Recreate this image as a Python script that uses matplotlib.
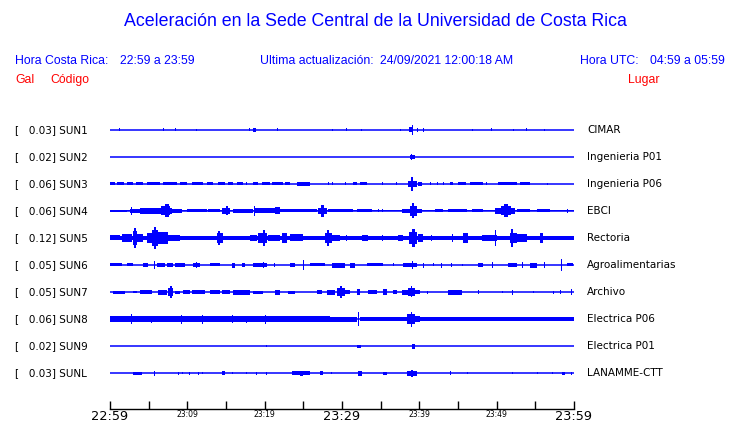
import matplotlib.pyplot as plt

# datos de las estaciones
codigos = ["SUN1", "SUN2", "SUN3", "SUN4", "SUN5", "SUN6", "SUN7", "SUN8", "SUN9", "SUNL"]
lugares = ["CIMAR", "Ingenieria P01", "Ingenieria P06", "EBCI", "Rectoria",
           "Agroalimentarias", "Archivo", "Electrica P06", "Electrica P01", "LANAMME-CTT"]
gal = [0.03, 0.02, 0.06, 0.06, 0.12, 0.05, 0.05, 0.06, 0.02, 0.03]

# ruido de fondo (amplitud relativa) por estacion
fondo = [0, 0, 0, 0.5, 2, 0, 0, 0, 0, 0]

# eventos: (minuto inicio, minuto fin, amplitud relativa)
sun1 = [(1.2, 1.2, 1.5), (6.9, 6.9, 1.5), (8.5, 8.5, 1.5), (11.2, 11.2, 1), (18.0, 18.0, 1.5),
        (18.5, 18.9, 2), (21.6, 21.6, 1.5), (28.8, 28.8, 1), (30.6, 30.6, 1.5), (32.5, 32.5, 1),
        (37.6, 37.6, 1), (38.6, 39.0, 2.5), (39.1, 39.1, 5), (39.8, 39.8, 2), (40.5, 40.5, 2),
        (46.9, 46.9, 1), (49.3, 49.3, 1.5), (52.2, 52.2, 1), (53.9, 53.9, 1.5), (56.2, 56.2, 1)]
sun2 = [(38.8, 39.4, 2), (39.0, 39.0, 3)]
sun3 = [(0, 0.6, 1.5), (0.9, 1.8, 1.5), (2.2, 3.0, 1.5), (3.3, 4.3, 1.5), (4.8, 6.5, 1.5),
        (6.8, 8.7, 1.5), (9.1, 10.0, 1.5), (10.6, 12.0, 1.5), (12.5, 13.3, 1.5), (14.0, 14.9, 1.5),
        (15.3, 15.9, 1.5), (16.4, 17.2, 1.5), (17.7, 17.7, 1.5), (18.5, 19.1, 1.5), (19.7, 20.7, 1.5),
        (20.9, 22.4, 1.5), (22.6, 23.3, 1.5), (24.2, 25.9, 2), (28.2, 28.2, 1.5), (28.8, 28.8, 1.5),
        (30.4, 30.4, 1.5), (31.4, 31.9, 1.5), (32.3, 33.2, 1.5), (35.3, 35.3, 1.5), (37.1, 37.1, 1.5),
        (38.5, 39.7, 3), (38.9, 39.2, 7), (39.8, 40.3, 2), (41.4, 41.4, 1.5), (42.3, 42.3, 1.5),
        (43.1, 43.1, 1.5), (44.0, 44.3, 1.5), (45.0, 46.0, 1.5), (46.5, 48.2, 1.5), (48.7, 48.7, 1.5),
        (50.2, 52.6, 1.5), (53.0, 54.3, 1.5), (56.6, 56.6, 1)]
sun4 = [(0, 2.2, 1), (2.6, 3.9, 2), (2.8, 2.8, 4), (3.9, 6.1, 3), (6.1, 8.0, 3), (6.6, 7.8, 4.5),
        (7.1, 7.6, 6.5), (8.0, 9.3, 2), (10.0, 12.5, 1.5), (12.7, 14.2, 1.5), (14.5, 15.5, 3),
        (15.0, 15.2, 4.5), (15.9, 18.5, 2), (18.7, 21.3, 2.5), (18.7, 18.7, 5), (21.3, 22.0, 3.5),
        (22.0, 26.8, 1.5), (26.9, 28.1, 3), (27.3, 27.7, 6), (28.2, 31.4, 1.5), (31.9, 33.9, 1.5),
        (34.7, 34.7, 1.5), (35.3, 35.3, 1.5), (37.8, 38.8, 2), (38.8, 39.7, 5), (39.1, 39.3, 7.5),
        (39.7, 40.3, 2), (42.0, 43.1, 1.5), (43.7, 46.2, 1.5), (46.8, 48.2, 1.5), (49.8, 52.4, 3),
        (50.5, 51.8, 4.5), (50.9, 51.5, 6.5), (52.6, 54.3, 1.5), (55.2, 56.9, 1.5), (59.2, 59.2, 2)]
sun5 = [(0, 1.3, 2.5), (1.6, 2.8, 4), (3.0, 3.5, 7), (3.1, 3.3, 10), (3.5, 4.3, 4), (4.8, 6.1, 5),
        (5.4, 6.2, 8), (5.7, 6.0, 11), (6.2, 7.5, 6), (7.5, 9.1, 3), (13.8, 14.6, 5), (14.0, 14.2, 7),
        (18.1, 19.0, 3), (19.1, 20.3, 5), (19.8, 20.0, 8), (20.4, 22.0, 3), (22.2, 22.9, 5),
        (23.3, 25.0, 3.5), (27.8, 28.7, 5), (28.1, 28.3, 8), (28.7, 29.7, 3), (30.6, 30.6, 3),
        (32.6, 33.4, 3), (35.3, 35.3, 3), (37.2, 37.9, 3), (38.7, 39.7, 6), (39.1, 39.4, 9),
        (39.8, 40.5, 4), (41.6, 41.6, 3), (44.3, 44.3, 4), (45.6, 46.3, 5), (48.1, 50.0, 3),
        (49.8, 49.8, 8), (51.7, 52.6, 5), (51.9, 52.1, 9), (52.6, 53.9, 4), (55.6, 56.0, 5)]
sun6 = [(0, 1.6, 1.5), (2.2, 3.0, 1.5), (4.3, 4.9, 2), (5.7, 5.7, 4), (6.1, 7.1, 2), (7.4, 8.1, 2),
        (8.4, 9.7, 2), (10.7, 11.6, 2), (11.2, 11.2, 3), (12.9, 14.2, 1.5), (15.8, 16.2, 2.5),
        (17.1, 17.5, 2), (18.5, 20.3, 2), (19.8, 19.8, 3), (21.3, 21.3, 2), (23.3, 23.9, 2),
        (25.0, 25.0, 5), (25.9, 27.8, 1.5), (28.7, 30.4, 2.5), (31.0, 31.7, 2.5), (33.2, 35.3, 1.5),
        (36.6, 36.6, 1.5), (37.9, 39.7, 2), (39.1, 39.1, 4), (40.5, 40.5, 2.5), (41.8, 41.8, 1.5),
        (42.9, 42.9, 2.5), (44.2, 44.2, 2), (45.6, 45.6, 1), (47.6, 48.2, 2), (49.5, 49.5, 3),
        (51.5, 52.6, 2), (53.4, 53.4, 3), (54.3, 55.2, 2.5), (56.2, 56.2, 3), (58.4, 58.4, 6),
        (59.1, 59.9, 1.5)]
sun7 = [(0.4, 1.9, 1.5), (3.0, 3.5, 1), (3.9, 5.4, 2), (6.2, 7.4, 2.5), (7.5, 8.1, 4), (7.8, 8.0, 6),
        (8.4, 9.1, 1.5), (9.4, 10.3, 2), (10.6, 12.3, 2), (12.9, 14.2, 2), (14.5, 15.5, 2),
        (15.9, 18.1, 2.5), (18.5, 19.8, 1.5), (21.3, 22.0, 2.5), (23.0, 23.9, 1.5), (26.8, 27.4, 2),
        (28.1, 29.1, 2.5), (29.4, 30.4, 4), (29.8, 30.0, 6), (30.4, 31.0, 2), (31.9, 32.3, 3),
        (33.4, 34.5, 2), (35.3, 35.8, 3), (36.6, 37.1, 2), (37.8, 38.5, 2.5), (38.5, 39.4, 4),
        (38.9, 39.1, 5.5), (39.4, 40.1, 2), (41.0, 41.0, 1.5), (43.7, 45.5, 2.5), (47.6, 47.6, 2),
        (50.7, 50.7, 1), (52.0, 52.0, 2.5), (54.7, 54.7, 1), (57.3, 57.3, 1.5), (58.2, 58.2, 2),
        (59.7, 59.7, 3)]
sun8 = [(0, 28.4, 3), (2.8, 2.8, 5), (5.4, 5.4, 3.5), (9.3, 9.3, 4.5), (11.9, 11.9, 4.5),
        (15.8, 15.8, 4), (17.7, 17.7, 3.5), (20.1, 20.1, 4.5), (28.4, 31.9, 2.5), (32.1, 32.1, 7),
        (32.3, 38.4, 2), (38.4, 39.4, 5), (38.9, 39.1, 7.5), (39.4, 40.1, 3), (40.1, 60, 2)]
sun9 = [(20.2, 20.2, 1), (32.0, 32.4, 1.5), (39.0, 39.4, 2.5)]
sunl = [(3.0, 4.1, 1.5), (5.8, 5.8, 2.5), (8.8, 8.8, 1.5), (9.4, 9.4, 1), (10.3, 10.3, 1.5),
        (11.4, 11.4, 1.5), (12.0, 12.0, 1), (14.5, 14.9, 2), (15.9, 15.9, 1), (17.7, 17.7, 1),
        (19.0, 19.0, 1.5), (20.2, 20.2, 1.5), (23.5, 25.9, 2), (24.6, 25.0, 2.5), (27.2, 27.5, 2),
        (28.7, 28.7, 1), (32.1, 32.6, 2.5), (35.3, 35.8, 1.5), (38.4, 39.7, 2.5), (38.9, 39.2, 3.5),
        (44.0, 44.0, 2), (46.2, 46.2, 1), (52.1, 52.1, 1), (55.3, 55.3, 1), (57.2, 57.2, 1),
        (58.4, 58.8, 1.5), (59.7, 59.7, 1.5)]
eventos = [sun1, sun2, sun3, sun4, sun5, sun6, sun7, sun8, sun9, sunl]

# eje de tiempo (minutos desde 22:59)
ticks = list(range(0, 61, 5))
etiquetas = ["22:59", "", "23:09", "", "23:19", "", "23:29", "", "23:39", "", "23:49", "", "23:59"]

W, H = 740, 423
fig = plt.figure(figsize=(W / 100, H / 100), dpi=100)
azul = "#0000ff"
rojo = "#ff0000"


def px(x, y):
    return x / W, 1 - y / H


# encabezado
fig.text(*px(375, 22), "Aceleración en la Sede Central de la Universidad de Costa Rica",
         ha="center", va="center", color=azul, fontsize=12.8, family="Liberation Sans")
hdr = dict(color=azul, fontsize=8.8, family="Liberation Sans", va="center", ha="left")
fig.text(*px(15, 61), "Hora Costa Rica:", **hdr)
fig.text(*px(120, 61), "22:59 a 23:59", **hdr)
fig.text(*px(260, 61), "Ultima actualización:", **hdr)
fig.text(*px(380, 61), "24/09/2021 12:00:18 AM", **hdr)
fig.text(*px(580, 61), "Hora UTC:", **hdr)
fig.text(*px(650, 61), "04:59 a 05:59", **hdr)
hdr["color"] = rojo
fig.text(*px(15, 80), "Gal", **hdr)
fig.text(*px(50, 80), "Código", **hdr)
fig.text(*px(628, 80), "Lugar", **hdr)

# area de trazas
ax = fig.add_axes([110 / W, 1 - 409 / H, 464 / W, 293 / H])
ax.set_xlim(0, 60)
ax.set_ylim(-9 - 36 / 27, 14 / 27)
for s in ["top", "left", "right"]:
    ax.spines[s].set_visible(False)
ax.spines["bottom"].set_linewidth(1)
ax.set_yticks([])
ax.set_xticks(ticks)
ax.set_xticklabels(etiquetas)
ax.tick_params(axis="x", direction="in", length=5.8, width=1, pad=1)
for lab in ax.get_xticklabels():
    if lab.get_text() in ("22:59", "23:29", "23:59"):
        lab.set_fontsize(9.3)
    else:
        lab.set_fontsize(5.5)

esc = 1 / 27  # amplitud relativa -> unidades de fila
for i in range(len(codigos)):
    off = -i
    ax.hlines(off, 0, 60, color=azul, lw=1.1)
    if fondo[i] > 0:
        ax.fill_between([0, 60], off - fondo[i] * esc, off + fondo[i] * esc, color=azul, lw=0,
                        antialiased=False)
    for t0, t1, a in eventos[i]:
        ax.bar((t0 + t1) / 2, 2 * a * esc, width=max(t1 - t0, 0.13), bottom=off - a * esc,
               color=azul, linewidth=0, antialiased=False)
    y = 130 + 27 * i
    fig.text(*px(15, y), f"[   {gal[i]:.2f}] {codigos[i]}", fontsize=7.5, va="center",
             family="DejaVu Sans")
    fig.text(*px(587, y), lugares[i], fontsize=7.5, va="center", family="DejaVu Sans")

fig.savefig("out.png", dpi=100)
